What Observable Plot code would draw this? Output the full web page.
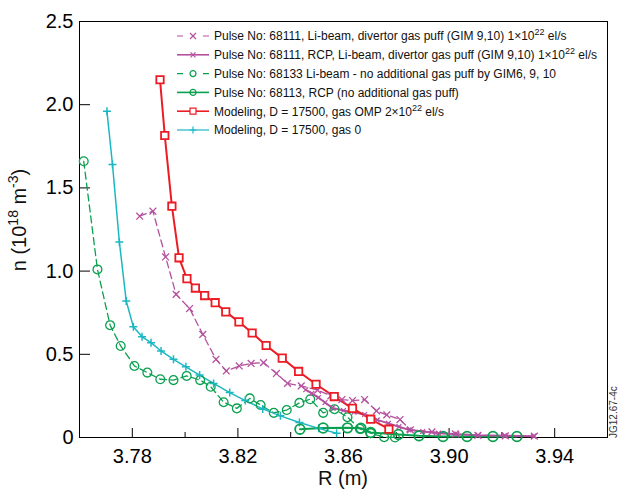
<!DOCTYPE html>
<html><head><meta charset="utf-8">
<script src="https://cdn.jsdelivr.net/npm/d3@7"></script>
<script src="https://cdn.jsdelivr.net/npm/@observablehq/plot@0.6"></script>
<style>
html,body{margin:0;padding:0;background:#fff;}
#chart{width:619px;height:489px;}
</style></head><body><div id="chart"></div>
<script>
// ---------- data ----------
const xMajorTicks = [3.78, 3.82, 3.86, 3.90, 3.94];
const xTickLabels = ["3.78", "3.82", "3.86", "3.90", "3.94"];
const xMinorTicks = [3.80, 3.84, 3.88, 3.92];
const yTicks = [0, 0.5, 1.0, 1.5, 2.0, 2.5];
const yTickLabels = ["0", "0.5", "1.0", "1.5", "2.0", "2.5"];

const R_li68111 = [3.7828, 3.7878, 3.7926, 3.7966, 3.8017, 3.8067, 3.8117, 3.8156, 3.8205, 3.8250, 3.8297, 3.8346, 3.8388, 3.8440, 3.8502, 3.8552, 3.8594, 3.8634, 3.8680, 3.8725, 3.8764, 3.8814, 3.8853, 3.8935, 3.9024, 3.9109, 3.9213, 3.9323];
const n_li68111 = [1.33, 1.36, 1.085, 0.86, 0.775, 0.62, 0.47, 0.40, 0.43, 0.445, 0.45, 0.385, 0.325, 0.31, 0.285, 0.25, 0.228, 0.222, 0.228, 0.16, 0.136, 0.108, 0.046, 0.034, 0.022, 0.013, 0.01, 0.008];

const R_rcp68111 = [3.8457, 3.8480, 3.8505, 3.8530, 3.8558, 3.8600, 3.8640, 3.8680, 3.8728, 3.8770, 3.8810, 3.8848, 3.8900, 3.8960, 3.9030, 3.9110, 3.9210, 3.9320];
const n_rcp68111 = [0.287, 0.265, 0.24, 0.21, 0.178, 0.162, 0.152, 0.138, 0.106, 0.085, 0.065, 0.046, 0.036, 0.026, 0.02, 0.014, 0.011, 0.008];

const R_li68133 = [3.7616, 3.7668, 3.7716, 3.7756, 3.7808, 3.7857, 3.7906, 3.7956, 3.8006, 3.8057, 3.8097, 3.8146, 3.8196, 3.8245, 3.8286, 3.8336, 3.8385, 3.8433, 3.8474, 3.8523, 3.8566, 3.8615, 3.8662, 3.8703, 3.8754, 3.8795];
const n_li68133 = [1.66, 1.01, 0.675, 0.55, 0.43, 0.39, 0.35, 0.345, 0.37, 0.345, 0.305, 0.212, 0.175, 0.235, 0.195, 0.148, 0.165, 0.208, 0.23, 0.148, 0.17, 0.122, 0.052, 0.026, 0.002, 0.0];

const R_rcp68113 = [3.8435, 3.8523, 3.8615, 3.8666, 3.8703, 3.8808, 3.8886, 3.8977, 3.9068, 3.9166, 3.9257];
const n_rcp68113 = [0.05, 0.057, 0.058, 0.056, 0.03, 0.018, 0.01, 0.006, 0.006, 0.006, 0.006];

const R_modOMP = [3.7905, 3.7923, 3.7950, 3.7977, 3.8007, 3.8039, 3.8074, 3.8114, 3.8154, 3.8204, 3.8254, 3.8307, 3.8368, 3.8430, 3.8496, 3.8565, 3.8634, 3.8703, 3.8772];
const n_modOMP = [2.15, 1.815, 1.39, 1.08, 0.955, 0.898, 0.853, 0.81, 0.755, 0.695, 0.628, 0.553, 0.477, 0.397, 0.32, 0.246, 0.175, 0.11, 0.05];

const R_mod0 = [3.7704, 3.7725, 3.7751, 3.7777, 3.7804, 3.7837, 3.7871, 3.7909, 3.7956, 3.8003, 3.8055, 3.8108, 3.8169, 3.8228, 3.8294, 3.8361, 3.8433, 3.8506, 3.8574];
const n_mod0 = [1.96, 1.64, 1.175, 0.82, 0.665, 0.605, 0.57, 0.52, 0.47, 0.425, 0.375, 0.325, 0.27, 0.222, 0.172, 0.13, 0.09, 0.055, 0.025];

const seriesKeys = ["li68111", "rcp68111", "li68133", "rcp68113", "modOMP", "mod0"];
const legendLabels = [
  "Pulse No: 68111, Li-beam, divertor gas puff (GIM 9,10) 1×10^{22} el/s",
  "Pulse No: 68111, RCP, Li-beam, divertor gas puff (GIM 9,10) 1×10^{22} el/s",
  "Pulse No: 68133 Li-beam - no additional gas puff by GIM6, 9, 10",
  "Pulse No: 68113, RCP (no additional gas puff)",
  "Modeling, D = 17500, gas OMP 2×10^{22} el/s",
  "Modeling, D = 17500, gas 0"
];
const seriesData = {
  li68111: R_li68111.map((R, i) => ({R, n: n_li68111[i]})),
  rcp68111: R_rcp68111.map((R, i) => ({R, n: n_rcp68111[i]})),
  li68133: R_li68133.map((R, i) => ({R, n: n_li68133[i]})),
  rcp68113: R_rcp68113.map((R, i) => ({R, n: n_rcp68113[i]})),
  modOMP: R_modOMP.map((R, i) => ({R, n: n_modOMP[i]})),
  mod0: R_mod0.map((R, i) => ({R, n: n_mod0[i]}))
};

// ---------- styles ----------
const FONT = "'Liberation Sans', Arial, Helvetica, sans-serif";
const rad = (size) => Math.sqrt(size / Math.PI);
const symTimes = {draw(c, s) { const r = rad(s); c.moveTo(-r, -r); c.lineTo(r, r); c.moveTo(-r, r); c.lineTo(r, -r); }};
const symPlus = {draw(c, s) { const r = rad(s); c.moveTo(-r, 0); c.lineTo(r, 0); c.moveTo(0, -r); c.lineTo(0, r); }};
const symSquare = {draw(c, s) { const r = rad(s); c.moveTo(-r, -r); c.lineTo(r, -r); c.lineTo(r, r); c.lineTo(-r, r); c.closePath(); }};
const symCircle = {draw(c, s) { const r = rad(s); c.moveTo(r, 0); c.arc(0, 0, r, 0, 2 * Math.PI); }};

const MAG = "#b4519f", GRN = "#0aa04f", RED = "#ec1c24", CYA = "#1bb8c3";
const styles = {
  li68111: {color: MAG, dash: "7,4", width: 1.3, symbol: symTimes, r: 3.4, mw: 1.3, fill: "none", lr: 3},
  rcp68111: {color: MAG, dash: null, width: 2, symbol: symTimes, r: 2.4, mw: 1.2, fill: "none", lr: 2.5},
  li68133: {color: GRN, dash: "7,4", width: 1.3, symbol: symCircle, r: 4.4, mw: 1.3, fill: "none", lr: 3},
  rcp68113: {color: GRN, dash: null, width: 2, symbol: symCircle, r: 4.8, mw: 1.8, fill: "none", lr: 3},
  modOMP: {color: RED, dash: null, width: 2, symbol: symSquare, r: 3.7, mw: 1.8, fill: "white", lr: 3},
  mod0: {color: CYA, dash: null, width: 1.5, symbol: symPlus, r: 4, mw: 1.5, fill: "none", lr: 3.5}
};
const drawOrder = ["li68111", "li68133", "mod0", "rcp68113", "rcp68111", "modOMP"];

// ---------- layout ----------
const W = 619, H = 489, mL = 79, mR = 12, mT = 21, mB = 52;
const PW = W - mL - mR, PH = H - mT - mB;

const seriesMarks = [];
for (const k of drawOrder) {
  const st = styles[k];
  seriesMarks.push(Plot.line(seriesData[k], {x: "R", y: "n", stroke: st.color, strokeWidth: st.width, strokeDasharray: st.dash, curve: "linear"}));
}
for (const k of drawOrder) {
  const st = styles[k];
  seriesMarks.push(Plot.dot(seriesData[k], {x: "R", y: "n", symbol: st.symbol, r: st.r, stroke: st.color, strokeWidth: st.mw, fill: st.fill}));
}

const chart = Plot.plot({
  width: W, height: H,
  marginLeft: mL, marginRight: mR, marginTop: mT, marginBottom: mB,
  style: {fontFamily: FONT, fontSize: "20px", background: "#fff", color: "#000"},
  x: {domain: [3.76, 3.96]},
  y: {domain: [0, 2.5]},
  marks: [
    Plot.frame({stroke: "#000", strokeWidth: 1}),
    Plot.tickX(xMajorTicks, {x: d => d, insetTop: PH - 9, stroke: "#000"}),
    Plot.tickX(xMinorTicks, {x: d => d, insetTop: PH - 5, stroke: "#000"}),
    Plot.tickY(yTicks, {y: d => d, insetRight: PW - 11, stroke: "#000"}),
    Plot.axisX({ticks: xMajorTicks, tickSize: 0, tickPadding: 11, tickFormat: d => xTickLabels[xMajorTicks.indexOf(d)], fontSize: 20, label: null}),
    Plot.axisY({ticks: yTicks, tickSize: 0, tickPadding: 6, tickFormat: d => yTickLabels[yTicks.indexOf(d)], fontSize: 20, label: null}),
    ...seriesMarks
  ]
});
document.getElementById("chart").appendChild(chart);

// ---------- annotations: legend, axis titles ----------
const svg = d3.select(chart);
function richText(sel, str, baseSize, supSize, rise) {
  const parts = str.split(/\^\{([^}]*)\}/);
  parts.forEach((p, i) => {
    if (!p) return;
    const sup = i % 2 === 1;
    const t = sel.append("tspan").text(p).attr("font-size", sup ? supSize : baseSize);
    if (sup) t.attr("dy", -rise);
    else if (i > 0) t.attr("dy", rise);
  });
}
const lg = svg.append("g").attr("font-family", FONT).attr("text-anchor", "start");
seriesKeys.forEach((k, i) => {
  const st = styles[k];
  const yc = 36 + i * 18.8;
  lg.append("line").attr("x1", 177).attr("x2", 209).attr("y1", yc).attr("y2", yc)
    .attr("stroke", st.color).attr("stroke-width", st.width === 2 ? 1.6 : 1.2)
    .attr("stroke-dasharray", st.dash ? "6,20" : null);
  lg.append("path").attr("transform", `translate(193,${yc})`)
    .attr("d", d3.symbol(st.symbol, Math.PI * st.lr * st.lr)())
    .attr("stroke", st.color).attr("stroke-width", 1.2).attr("fill", st.fill);
  const t = lg.append("text").attr("x", 214).attr("y", yc + 4.3).attr("font-size", 12)
    .attr("text-anchor", "start").attr("fill", "#111");
  richText(t, legendLabels[i], 12, 9, 5);
});

const yt = svg.append("text").attr("transform", "translate(25.5,220) rotate(-90)")
  .attr("text-anchor", "middle").attr("font-family", FONT).attr("font-size", 20).attr("fill", "#111");
richText(yt, "n (10^{18} m^{-3})", 20, 14, 8);

svg.append("text").attr("x", 343).attr("y", 485).attr("text-anchor", "middle")
  .attr("font-family", FONT).attr("font-size", 20).attr("fill", "#111").text("R (m)");

svg.append("text").attr("transform", "translate(617,438) rotate(-90)").attr("text-anchor", "start")
  .attr("font-family", FONT).attr("font-size", 10).attr("fill", "#333").text("JG12.67-4c");
</script></body></html>
